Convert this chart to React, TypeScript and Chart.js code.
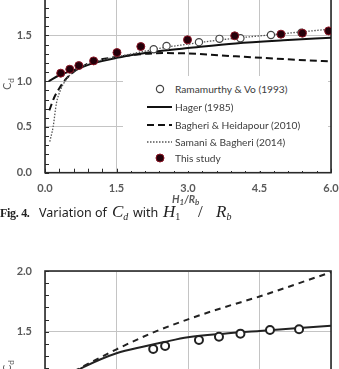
import React, { useEffect, useRef } from 'react';
import { Chart, registerables } from 'chart.js';
Chart.register(...registerables);

// ---------- Top chart (Fig. 4) ----------
const xTicksTop = [0, 1.5, 3.0, 4.5, 6.0];
const ramX = [2.28, 2.55, 3.23, 3.66, 4.1, 4.74, 5.38];
const ramY = [1.35, 1.386, 1.427, 1.463, 1.47, 1.505, 1.53];
const studyX = [0.33, 0.52, 0.71, 1.02, 1.51, 2.01, 2.99, 3.98, 4.95, 5.4, 5.95];
const studyY = [1.088, 1.131, 1.171, 1.222, 1.313, 1.379, 1.452, 1.496, 1.514, 1.525, 1.55];
const hagerX = [0.08, 0.3, 0.6, 1.0, 1.5, 2.0, 2.5, 3.0, 4.0, 5.0, 6.0];
const hagerY = [1.0, 1.065, 1.12, 1.195, 1.255, 1.3, 1.335, 1.362, 1.413, 1.447, 1.475];
const bhX = [0.09, 0.2, 0.31, 0.45, 0.6, 0.8, 1.0, 1.5, 2.0, 2.5, 3.0, 4.0, 5.0, 6.0];
const bhY = [0.68, 0.83, 0.93, 1.03, 1.1, 1.165, 1.215, 1.265, 1.295, 1.307, 1.303, 1.272, 1.242, 1.215];
const sbX = [0.1, 0.17, 0.24, 0.31, 0.42, 0.59, 0.8, 1.0, 1.5, 2.0, 2.5, 3.0, 3.5, 4.0, 4.5, 5.0, 5.5, 6.0];
const sbY = [0.34, 0.5, 0.76, 0.885, 1.0, 1.1, 1.165, 1.205, 1.265, 1.318, 1.368, 1.405, 1.44, 1.47, 1.495, 1.52, 1.545, 1.57];

// ---------- Bottom chart (partly visible) ----------
const botCircX = [2.27, 2.52, 3.23, 3.65, 4.1, 4.72, 5.33];
const botCircY = [1.357, 1.382, 1.432, 1.459, 1.484, 1.514, 1.52];
const botSolidX = [0.4, 0.83, 1.5, 2.1, 2.5, 3.0, 3.75, 4.5, 6.0];
const botSolidY = [1.12, 1.212, 1.322, 1.38, 1.415, 1.454, 1.484, 1.506, 1.55];
const botDashX = [0.4, 0.83, 1.5, 2.25, 3.0, 3.75, 4.5, 6.0];
const botDashY = [1.13, 1.22, 1.355, 1.49, 1.602, 1.7, 1.79, 1.99];

const legendLabels = [
  'Ramamurthy & Vo (1993)',
  'Hager (1985)',
  'Bagheri & Heidapour (2010)',
  'Samani & Bagheri (2014)',
  'This study',
];

const pts = (xs: number[], ys: number[]) => xs.map((x, i) => ({ x, y: ys[i] }));

const tickFont = { family: 'Lato', size: 11, weight: 'bold' as const };
const tickColor = '#5a5a5a';
const gridColor = '#c4c4c4';

function framePlugin(yMinor: number, xMinor: number | null) {
  return {
    id: 'frameTicks',
    beforeDatasetsDraw(chart: any) {
      const { ctx, chartArea: a, scales } = chart;
      ctx.save();
      ctx.strokeStyle = '#2a2a2a';
      ctx.lineWidth = 1;
      const ys = scales.y;
      const len = 4;
      for (let v = ys.min; v <= ys.max + 1e-9; v += yMinor) {
        const p = Math.round(ys.getPixelForValue(v)) + 0.5;
        ctx.beginPath();
        ctx.moveTo(a.left, p);
        ctx.lineTo(a.left + len, p);
        ctx.stroke();
      }
      if (xMinor) {
        const xs = scales.x;
        for (let v = xs.min; v <= xs.max + 1e-9; v += xMinor) {
          const p = Math.round(xs.getPixelForValue(v)) + 0.5;
          ctx.beginPath();
          ctx.moveTo(p, a.bottom);
          ctx.lineTo(p, a.bottom - len);
          ctx.stroke();
        }
      }
      ctx.lineWidth = 1.6;
      ctx.strokeRect(a.left, a.top, a.right - a.left, a.bottom - a.top);
      ctx.restore();
    },
  };
}

const zeroPad = (s: any) => {
  s.paddingTop = 0;
  s.paddingBottom = 0;
  s.paddingLeft = 0;
  s.paddingRight = 0;
};

function scales(yMin: number, yMax: number, xHeight: number) {
  return {
    x: {
      type: 'linear' as const,
      min: 0,
      max: 6,
      afterBuildTicks: (s: any) => {
        s.ticks = xTicksTop.map((v) => ({ value: v }));
      },
      afterFit: (s: any) => {
        s.height = xHeight;
        zeroPad(s);
      },
      grid: { color: gridColor, lineWidth: 1, drawTicks: false },
      border: { display: false },
      ticks: {
        padding: 9,
        color: tickColor,
        font: tickFont,
        maxRotation: 0,
        callback: (v: any) => Number(v).toFixed(1),
      },
    },
    y: {
      type: 'linear' as const,
      min: yMin,
      max: yMax,
      afterFit: (s: any) => {
        s.width = 45;
        zeroPad(s);
      },
      grid: { color: gridColor, lineWidth: 1, drawTicks: false },
      border: { display: false },
      ticks: {
        stepSize: 0.5,
        padding: 13,
        color: tickColor,
        font: tickFont,
        callback: (v: any) => Number(v).toFixed(1),
      },
    },
  };
}

const TOP_H = 232;
const TOP_PAD = 9.7;
const TOP_AREA = 183;
const BOT_H = 210;
const BOT_PAD = 21;
const BOT_AREA = 121.4;

export default function App() {
  const topRef = useRef<HTMLCanvasElement>(null);
  const botRef = useRef<HTMLCanvasElement>(null);

  useEffect(() => {
    const top = new Chart(topRef.current!, {
      type: 'scatter',
      data: {
        datasets: [
          {
            label: legendLabels[4],
            data: pts(studyX, studyY),
            pointRadius: 4,
            pointBackgroundColor: '#24000a',
            pointBorderColor: '#8a1424',
            pointBorderWidth: 1,
            showLine: false,
          },
          {
            label: legendLabels[0],
            data: pts(ramX, ramY),
            pointRadius: 3.6,
            pointBackgroundColor: '#ffffff',
            pointBorderColor: '#444444',
            pointBorderWidth: 1.2,
            showLine: false,
          },
          {
            label: legendLabels[3],
            data: pts(sbX, sbY),
            showLine: true,
            pointRadius: 0,
            borderColor: '#555555',
            borderWidth: 1.3,
            borderDash: [1.5, 1.5],
            cubicInterpolationMode: 'monotone',
          },
          {
            label: legendLabels[2],
            data: pts(bhX, bhY),
            showLine: true,
            pointRadius: 0,
            borderColor: '#111111',
            borderWidth: 2,
            borderDash: [7, 4],
            cubicInterpolationMode: 'monotone',
          },
          {
            label: legendLabels[1],
            data: pts(hagerX, hagerY),
            showLine: true,
            pointRadius: 0,
            borderColor: '#111111',
            borderWidth: 2,
            cubicInterpolationMode: 'monotone',
          },
        ],
      },
      options: {
        responsive: false,
        animation: false,
        devicePixelRatio: 1,
        layout: { padding: { top: TOP_PAD, right: 8, left: 0, bottom: 0 } },
        plugins: { legend: { display: false }, tooltip: { enabled: false } },
        scales: scales(0, 2, TOP_H - TOP_PAD - TOP_AREA) as any,
      },
      plugins: [framePlugin(0.1, 0.3)],
    } as any);

    const bot = new Chart(botRef.current!, {
      type: 'scatter',
      data: {
        datasets: [
          {
            label: 'circles',
            data: pts(botCircX, botCircY),
            pointRadius: 4,
            pointBackgroundColor: '#ffffff',
            pointBorderColor: '#222222',
            pointBorderWidth: 2,
            showLine: false,
          },
          {
            label: 'dashed',
            data: pts(botDashX, botDashY),
            showLine: true,
            pointRadius: 0,
            borderColor: '#222222',
            borderWidth: 2,
            borderDash: [6, 5],
            cubicInterpolationMode: 'monotone',
          },
          {
            label: 'solid',
            data: pts(botSolidX, botSolidY),
            showLine: true,
            pointRadius: 0,
            borderColor: '#222222',
            borderWidth: 2,
            cubicInterpolationMode: 'monotone',
          },
        ],
      },
      options: {
        responsive: false,
        animation: false,
        devicePixelRatio: 1,
        layout: { padding: { top: BOT_PAD, right: 8, left: 0, bottom: 0 } },
        plugins: { legend: { display: false }, tooltip: { enabled: false } },
        scales: scales(1.0, 2.0, BOT_H - BOT_PAD - BOT_AREA) as any,
      },
      plugins: [framePlugin(0.1, null)],
    } as any);

    return () => {
      top.destroy();
      bot.destroy();
    };
  }, []);

  const legendText: React.CSSProperties = {
    position: 'absolute',
    left: 175,
    fontFamily: 'Lato, sans-serif',
    fontSize: 10.2,
    color: '#3c3c3c',
    lineHeight: '12px',
    whiteSpace: 'nowrap',
  };
  const rows = [89, 107, 125, 142, 158];

  const axisTitle: React.CSSProperties = {
    position: 'absolute',
    fontFamily: 'Lato, sans-serif',
    fontSize: 10.5,
    fontWeight: 'bold',
    color: '#5a5a5a',
    whiteSpace: 'nowrap',
  };

  const yTitle = (top: number) => (
    <div
      style={{
        ...axisTitle,
        fontWeight: 'normal',
        left: 1,
        top: top - 7,
        transform: 'rotate(-90deg)',
        transformOrigin: 'center',
        width: 16,
        textAlign: 'center',
        lineHeight: '14px',
      }}
    >
      C<sub style={{ fontSize: 8 }}>d</sub>
    </div>
  );

  const sub: React.CSSProperties = { fontSize: 8, verticalAlign: '-2px', lineHeight: 0 };
  const capSub: React.CSSProperties = { fontSize: 10, verticalAlign: '-3px', lineHeight: 0 };
  const capText: React.CSSProperties = {
    position: 'absolute',
    top: 0,
    fontFamily: '"Noto Sans", sans-serif',
    fontSize: 12.5,
    lineHeight: '16px',
    whiteSpace: 'nowrap',
  };
  const capMath: React.CSSProperties = {
    position: 'absolute',
    top: -2,
    fontFamily: '"Liberation Serif", serif',
    fontStyle: 'italic',
    fontSize: 17,
    lineHeight: '18px',
    whiteSpace: 'nowrap',
  };

  return (
    <div
      style={{
        position: 'fixed',
        left: 0,
        top: 0,
        width: 339,
        height: 369,
        overflow: 'hidden',
        background: '#ffffff',
      }}
    >
      <canvas
        ref={topRef}
        width={339}
        height={TOP_H}
        style={{ position: 'absolute', left: 0, top: -20, width: 339, height: TOP_H }}
      />
      <canvas
        ref={botRef}
        width={339}
        height={BOT_H}
        style={{ position: 'absolute', left: 0, top: 250, width: 339, height: BOT_H }}
      />

      {/* legend of top chart */}
      <div
        style={{
          position: 'absolute',
          left: 123,
          top: 76,
          width: 205,
          height: 95,
          background: '#ffffff',
        }}
      />
      <svg
        width={339}
        height={369}
        style={{ position: 'absolute', left: 0, top: 0, pointerEvents: 'none' }}
      >
        <circle cx={160} cy={rows[0]} r={3.6} fill="#fff" stroke="#444" strokeWidth={1.2} />
        <line x1={147} x2={172} y1={rows[1]} y2={rows[1]} stroke="#111" strokeWidth={2} />
        <line x1={147} x2={172} y1={rows[2]} y2={rows[2]} stroke="#111" strokeWidth={2} strokeDasharray="7 4" />
        <line x1={147} x2={172} y1={rows[3]} y2={rows[3]} stroke="#555" strokeWidth={1.3} strokeDasharray="1.5 1.5" />
        <circle cx={160} cy={rows[4]} r={4} fill="#24000a" stroke="#8a1424" strokeWidth={1} />
      </svg>
      {legendLabels.map((t, i) => (
        <div key={t} style={{ ...legendText, top: rows[i] - 6 }}>
          {t}
        </div>
      ))}

      {/* axis titles */}
      <div style={{ ...axisTitle, left: 172, top: 193, fontStyle: 'italic', lineHeight: '12px' }}>
        H<sub style={sub}>1</sub>/R<sub style={sub}>b</sub>
      </div>
      {yTitle(82)}
      {yTitle(364)}

      {/* caption */}
      <div style={{ position: 'absolute', left: 0, top: 205, width: 339, height: 18, color: '#222' }}>
        <span
          style={{
            ...capText,
            left: 0,
            fontFamily: '"Liberation Serif", serif',
            fontWeight: 'bold',
            fontSize: 12,
            letterSpacing: -0.3,
          }}
        >
          Fig. 4.
        </span>
        <span style={{ ...capText, left: 39 }}>Variation of</span>
        <span style={{ ...capMath, left: 112 }}>
          C<sub style={capSub}>d</sub>
        </span>
        <span style={{ ...capText, left: 133 }}>with</span>
        <span style={{ ...capMath, left: 163 }}>
          H<sub style={{ ...capSub, fontStyle: 'normal' }}>1</sub>
        </span>
        <span style={{ ...capMath, left: 198, fontStyle: 'normal' }}>/</span>
        <span style={{ ...capMath, left: 216 }}>
          R<sub style={capSub}>b</sub>
        </span>
      </div>
    </div>
  );
}
